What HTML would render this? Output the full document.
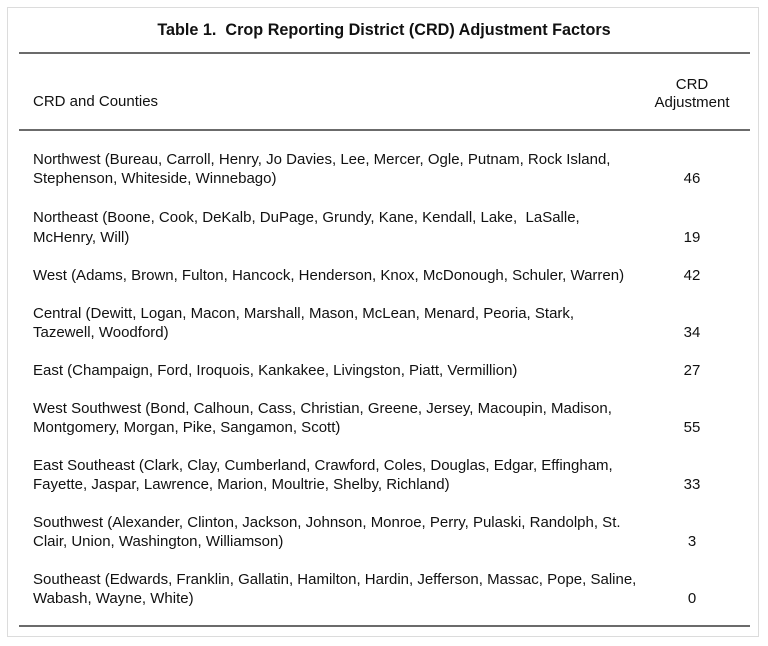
<!DOCTYPE html>
<html><head><meta charset="utf-8"><style>
html,body{margin:0;padding:0;background:#fff;}
body{width:768px;height:646px;position:relative;overflow:hidden;font-family:"Liberation Sans",Arial,sans-serif;color:#111;}
.box{position:absolute;left:7px;top:7px;width:752px;height:630px;border:1.5px solid #dcdcdc;box-sizing:border-box;}
.rule{position:absolute;left:19px;width:731px;height:2px;background:#6b6b6b;}
.t{position:absolute;white-space:nowrap;font-size:15px;line-height:19px;height:19px;}
.l{left:33px;}
.v{left:652px;width:80px;text-align:center;}
.title{position:absolute;left:0;width:768px;text-align:center;top:21px;font-size:16.2px;font-weight:bold;line-height:19px;}
</style></head><body>
<div class="box"></div>
<div class="title">Table 1.&nbsp; Crop Reporting District (CRD) Adjustment Factors</div>
<div class="rule" style="top:52px"></div>
<div class="t l" style="top:92px">CRD and Counties</div>
<div class="t v" style="top:75px">CRD</div>
<div class="t v" style="top:93px">Adjustment</div>
<div class="rule" style="top:129px"></div>

<div class="t l" style="top:150px">Northwest (Bureau, Carroll, Henry, Jo Davies, Lee, Mercer, Ogle, Putnam, Rock Island,</div>
<div class="t l" style="top:169px">Stephenson, Whiteside, Winnebago)</div>
<div class="t v" style="top:169px">46</div>

<div class="t l" style="top:208px">Northeast (Boone, Cook, DeKalb, DuPage, Grundy, Kane, Kendall, Lake,&nbsp; LaSalle,</div>
<div class="t l" style="top:228px">McHenry, Will)</div>
<div class="t v" style="top:228px">19</div>

<div class="t l" style="top:266px">West (Adams, Brown, Fulton, Hancock, Henderson, Knox, McDonough, Schuler, Warren)</div>
<div class="t v" style="top:266px">42</div>

<div class="t l" style="top:304px">Central (Dewitt, Logan, Macon, Marshall, Mason, McLean, Menard, Peoria, Stark,</div>
<div class="t l" style="top:323px">Tazewell, Woodford)</div>
<div class="t v" style="top:323px">34</div>

<div class="t l" style="top:361px">East (Champaign, Ford, Iroquois, Kankakee, Livingston, Piatt, Vermillion)</div>
<div class="t v" style="top:361px">27</div>

<div class="t l" style="top:399px">West Southwest (Bond, Calhoun, Cass, Christian, Greene, Jersey, Macoupin, Madison,</div>
<div class="t l" style="top:418px">Montgomery, Morgan, Pike, Sangamon, Scott)</div>
<div class="t v" style="top:418px">55</div>

<div class="t l" style="top:456px">East Southeast (Clark, Clay, Cumberland, Crawford, Coles, Douglas, Edgar, Effingham,</div>
<div class="t l" style="top:475px">Fayette, Jaspar, Lawrence, Marion, Moultrie, Shelby, Richland)</div>
<div class="t v" style="top:475px">33</div>

<div class="t l" style="top:513px">Southwest (Alexander, Clinton, Jackson, Johnson, Monroe, Perry, Pulaski, Randolph, St.</div>
<div class="t l" style="top:532px">Clair, Union, Washington, Williamson)</div>
<div class="t v" style="top:532px">3</div>

<div class="t l" style="top:570px">Southeast (Edwards, Franklin, Gallatin, Hamilton, Hardin, Jefferson, Massac, Pope, Saline,</div>
<div class="t l" style="top:589px">Wabash, Wayne, White)</div>
<div class="t v" style="top:589px">0</div>

<div class="rule" style="top:625px"></div>
</body></html>
